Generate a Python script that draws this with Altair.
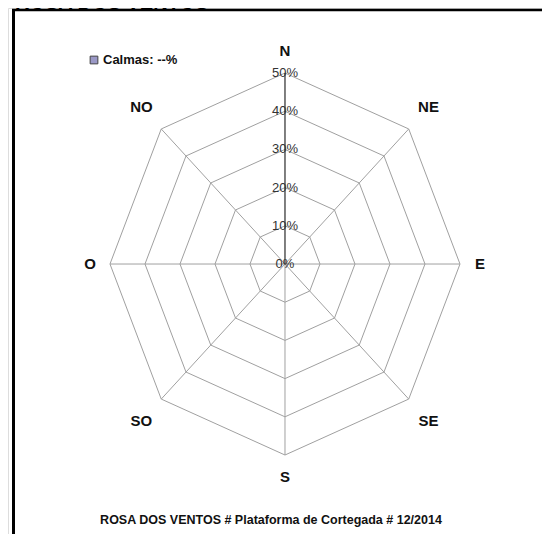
import math
import altair as alt
import pandas as pd

# ---- data ----
directions = ["N", "NE", "E", "SE", "S", "SO", "O", "NO"]
angles_deg = [0, 45, 90, 135, 180, 225, 270, 315]
ring_levels = [10, 20, 30, 40, 50]
tick_levels = [0, 10, 20, 30, 40, 50]
tick_labels = ["0%", "10%", "20%", "30%", "40%", "50%"]
calm_label = "Calmas: --%"
chart_title = "ROSA DOS VENTOS"
footer = "ROSA DOS VENTOS # Plataforma de Cortegada # 12/2014"

# ---- derived tables ----
ring_rows = []
for lvl in ring_levels:
    for i, a in enumerate(angles_deg + [angles_deg[0]]):
        r = math.radians(a)
        ring_rows.append({"ring": lvl, "order": i,
                          "x": lvl * math.sin(r), "y": lvl * math.cos(r)})
rings = pd.DataFrame(ring_rows)

spoke_rows = []
outer = max(ring_levels)
for d, a in zip(directions, angles_deg):
    r = math.radians(a)
    spoke_rows.append({"dir": d, "order": 0, "x": 0.0, "y": 0.0})
    spoke_rows.append({"dir": d, "order": 1, "x": outer * math.sin(r), "y": outer * math.cos(r)})
spokes = pd.DataFrame(spoke_rows)

lab_rows = []
for d, a in zip(directions, angles_deg):
    r = math.radians(a)
    rl = 55.7 if a % 90 == 0 else 58.0
    lab_rows.append({"dir": d, "x": rl * math.sin(r), "y": rl * math.cos(r)})
dir_labels = pd.DataFrame(lab_rows)

ticks = pd.DataFrame({"x": [0.0] * len(tick_levels), "y": tick_levels, "label": tick_labels})

W, H = 534, 526
xs = alt.Scale(domain=[-79.14, -79.14 + W / 3.5], nice=False, zero=False)
ys = alt.Scale(domain=[67.02 - H / 3.82, 67.02], nice=False, zero=False)
X = lambda: alt.X("x:Q", scale=xs, axis=None)
Y = lambda: alt.Y("y:Q", scale=ys, axis=None)

FONT = "Liberation Sans"
GRID = "#a0a0a0"

ring_layer = alt.Chart(rings).mark_line(color=GRID, strokeWidth=1).encode(
    x=X(), y=Y(), detail="ring:N", order="order:Q")

spoke_grey = alt.Chart(spokes[spokes["dir"] != "N"]).mark_line(color=GRID, strokeWidth=1).encode(
    x=X(), y=Y(), detail="dir:N", order="order:Q")
spoke_n = alt.Chart(spokes[spokes["dir"] == "N"]).mark_line(color="#000000", strokeWidth=1).encode(
    x=X(), y=Y(), detail="dir:N", order="order:Q")

dir_text = alt.Chart(dir_labels).mark_text(
    font=FONT, fontSize=15, fontWeight="bold", color="#111111",
    align="center", baseline="middle").encode(x=X(), y=Y(), text="dir:N")

tick_text = alt.Chart(ticks).mark_text(
    font=FONT, fontSize=13, color="#333333", align="center", baseline="middle").encode(
    x=X(), y=Y(), text="label:N")

frame_top = alt.Chart(ticks.head(1)).mark_rule(color="#000000", strokeWidth=2.5).encode(
    x=alt.value(4), x2=alt.value(W + 40), y=alt.value(2))
frame_left = alt.Chart(ticks.head(1)).mark_rule(color="#000000", strokeWidth=3).encode(
    x=alt.value(5.5), y=alt.value(1), y2=alt.value(H + 40))

title_text = alt.Chart(pd.DataFrame({"t": [chart_title]})).mark_text(
    font=FONT, fontSize=20, fontWeight="bold", color="#000000",
    align="left", baseline="alphabetic").encode(
    x=alt.value(7), y=alt.value(0.5), text="t:N")

calm_box = alt.Chart(pd.DataFrame({"t": [calm_label]})).mark_square(
    size=60, fill="#9a98c6", stroke="#444444", strokeWidth=1, opacity=1).encode(
    x=alt.value(86), y=alt.value(52))
calm_text = alt.Chart(pd.DataFrame({"t": [calm_label]})).mark_text(
    font=FONT, fontSize=13, fontWeight="bold", color="#111111",
    align="left", baseline="middle").encode(
    x=alt.value(95), y=alt.value(52), text="t:N")

footer_text = alt.Chart(pd.DataFrame({"t": [footer]})).mark_text(
    font=FONT, fontSize=12.5, fontWeight="bold", color="#111111",
    align="center", baseline="middle").encode(
    x=alt.value(263), y=alt.value(512), text="t:N")

chart = alt.layer(
    ring_layer, spoke_grey, spoke_n, tick_text, dir_text,
    frame_top, frame_left, title_text, calm_box, calm_text, footer_text
).properties(
    width=W, height=H, padding=0, autosize=alt.AutoSizeParams(type="none")
).configure_view(stroke=None).configure(background="white")

chart.save("out.html", embed_options={"renderer": "svg", "actions": False})
